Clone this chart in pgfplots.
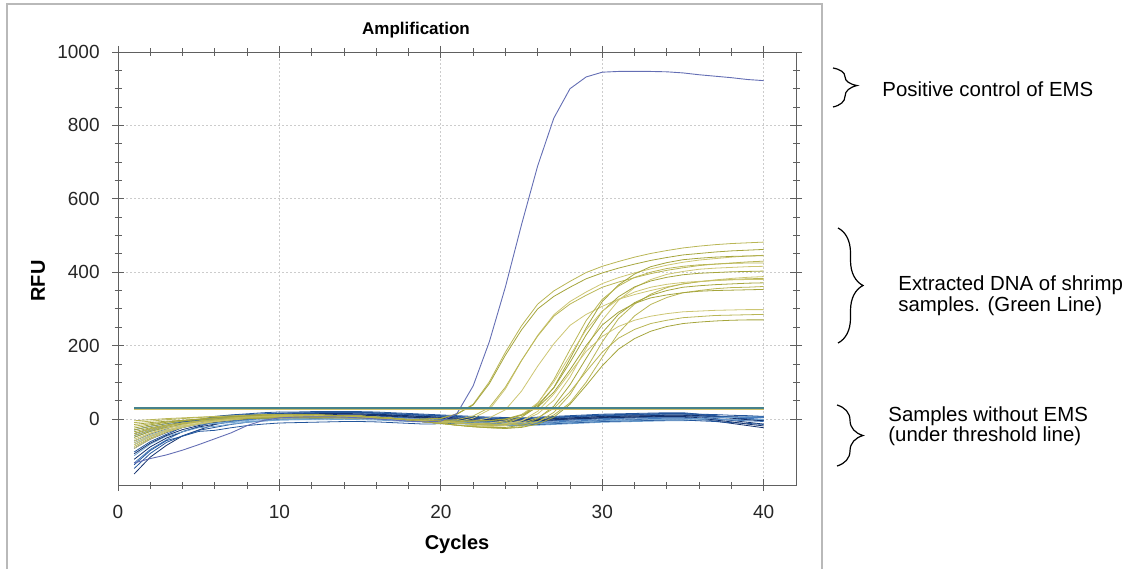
\documentclass[border=0pt]{standalone}
\usepackage{pgfplots}
\pgfplotsset{compat=1.18}
\usepackage{pgfplotstable}
\usepackage{fontspec}
\setmainfont{Liberation Sans}
\usetikzlibrary{decorations.pathreplacing}

\definecolor{gA}{RGB}{185,182,85}
\definecolor{gB}{RGB}{165,165,60}
\definecolor{gC}{RGB}{205,198,115}
\definecolor{bA}{RGB}{20,50,110}
\definecolor{bB}{RGB}{35,85,155}
\definecolor{bC}{RGB}{70,125,190}
\definecolor{bD}{RGB}{115,165,210}
\definecolor{posctl}{RGB}{100,110,180}
\definecolor{thrA}{RGB}{70,130,140}
\definecolor{thrB}{RGB}{205,190,105}

\pgfplotstableread{
c E1 E2 E3 E4 E5 M1 M2 M3 M4 M5 M6 M7 M8 M9 M10 M11 M12
1 -75 -40 -60 -20 -65 -50 -10 -70 -35 -5 -55 -30 -45 -15 -80 -40 -25
2 -52 -27 -40 -13 -45 -34 -6 -48 -24 -2 -38 -20 -31 -10 -55 -27 -16
3 -35 -18 -26 -8 -30 -23 -2 -32 -16 1 -25 -12 -20 -6 -36 -18 -9
4 -23 -11 -16 -4 -19 -14 1 -21 -11 3 -16 -6 -12 -4 -23 -11 -4
5 -14 -6 -8 -1 -12 -8 4 -13 -6 5 -9 -1 -7 -2 -13 -6 0
6 -8 -2 -3 2 -6 -3 6 -7 -3 7 -4 3 -3 0 -6 -2 3
7 -3 1 2 4 -2 0 8 -2 -1 8 -1 6 1 1 0 1 6
8 1 4 6 5 2 3 10 1 1 10 3 8 3 2 4 4 8
9 4 6 9 7 4 5 11 4 2 12 5 10 5 3 7 6 11
10 5 6 10 7 5 6 12 5 3 12 6 11 6 3 9 6 11
11 6 7 10 7 6 7 12 6 3 12 7 11 7 4 10 7 11
12 7 7 11 8 7 7 12 7 3 12 7 11 7 4 10 7 12
13 6 6 10 7 6 6 10 6 3 10 6 10 6 4 9 6 10
14 5 6 8 6 5 6 9 5 3 9 5 9 6 3 8 6 9
15 5 5 8 5 5 5 8 5 3 8 5 8 5 3 8 5 8
16 3 3 5 3 3 3 5 3 2 5 3 5 3 2 5 3 5
17 1 1 2 1 1 1 2 1 1 2 1 2 1 1 2 1 2
18 -2 -2 -3 -2 -2 -2 -3 -2 -1 -3 -2 -3 -2 -1 -3 -2 -3
19 0 0 -8 -5 -5 -5 -8 -5 -3 -8 -5 -8 -5 -3 -8 -5 -8
20 2 1 -7 -4 -8 -8 -12 -8 -4 -12 -8 -12 -8 -4 -12 -8 -12
21 14 13 -7 -2 -7 -11 -17 -11 -6 -17 -11 -17 -11 -6 -17 -11 -17
22 40 38 2 8 -6 -12 -18 -14 -5 -21 -12 -21 -14 -6 -19 -14 -21
23 101 96 25 31 3 -12 -19 -15 -4 -24 -11 -23 -17 -5 -21 -15 -24
24 182 174 82 87 25 -8 -13 -13 0 -25 -5 -23 -17 -1 -18 -15 -26
25 254 243 159 160 76 5 5 -5 12 -21 11 -17 -14 10 -5 -10 -23
26 313 300 228 226 144 34 42 14 38 -8 44 1 -7 32 21 3 -14
27 349 334 284 280 205 86 107 51 85 18 101 35 11 73 68 29 5
28 375 359 320 313 255 164 189 114 154 66 173 93 44 134 126 74 40
29 399 382 346 337 285 248 268 193 229 136 243 165 100 200 184 129 91
30 416 398 369 359 307 320 326 269 293 210 294 235 168 256 225 182 145
31 429 411 385 373 326 365 362 323 333 273 326 285 234 291 252 220 190
32 441 422 398 385 339 395 386 358 360 313 346 317 281 315 269 244 219
33 451 432 409 396 350 415 400 380 376 340 359 337 312 330 280 260 239
34 459 440 419 405 360 426 410 394 386 358 367 350 331 338 287 269 252
35 466 447 427 412 368 434 416 402 393 368 372 359 344 344 292 276 260
36 471 451 433 418 374 438 420 408 397 374 375 363 350 348 294 279 264
37 475 455 437 422 379 441 422 411 399 378 377 366 355 350 296 282 267
38 478 458 441 425 383 443 424 413 401 380 379 368 358 351 297 283 269
39 480 460 444 428 386 444 425 415 402 382 380 370 359 352 298 284 270
40 482 462 446 430 388 445 425 416 403 383 380 371 361 353 298 285 270
}\greentab

\pgfplotstableread{
c B1 B2 B3 B4 B5 B6 B7 B8 B9 B10 B11 B12 B13 B14 B15 B16
1 -150 -135 -120 -110 -100 -90 -80 -70 -60 -50 -40 -30 -125 -95 -65 -45
2 -104 -94 -83 -76 -69 -62 -55 -48 -41 -34 -27 -20 -86 -66 -45 -31
3 -72 -64 -57 -52 -47 -42 -37 -32 -27 -23 -18 -13 -59 -45 -30 -20
4 -46 -46 -34 -35 -35 -23 -23 -23 -12 -19 -8 -7 -47 -29 -22 -8
5 -30 -31 -21 -22 -24 -13 -14 -14 -4 -13 -3 -3 -34 -18 -15 -2
6 -15 -23 -7 -14 -20 0 -5 -10 7 -13 4 0 -31 -9 -12 6
7 -7 -15 0 -7 -14 5 0 -5 11 -10 7 3 -24 -3 -8 10
8 0 -9 5 -2 -9 10 3 -2 14 -7 10 5 -18 1 -4 12
9 4 -5 9 2 -6 13 6 1 17 -5 12 6 -14 5 -2 14
10 8 -1 12 5 -3 15 9 3 19 -3 13 8 -11 7 0 16
11 10 0 14 6 -2 16 10 4 19 -2 14 8 -10 8 1 17
12 11 1 15 7 -1 17 10 5 20 -2 14 8 -9 9 2 17
13 12 2 15 8 0 18 11 5 20 -2 15 9 -8 10 2 18
14 13 3 16 8 0 18 11 5 20 -1 15 9 -7 10 3 18
15 13 3 16 8 0 18 11 5 20 -2 14 8 -7 10 2 17
16 12 2 15 7 -1 17 10 4 19 -3 13 7 -8 9 1 16
17 10 -1 13 5 -3 15 9 2 17 -5 11 5 -10 7 -1 14
18 8 -2 11 3 -5 13 6 0 15 -7 9 3 -12 5 -3 12
19 6 -4 9 2 -7 11 4 -2 13 -8 7 1 -14 3 -5 10
20 4 -6 7 -1 -9 9 2 -4 11 -11 5 -1 -13 1 -7 8
21 2 -8 5 -3 -11 7 0 -6 9 -13 3 -3 -11 -1 -9 6
22 1 -10 3 -5 -13 4 -2 -8 7 -15 1 -5 -12 -3 -11 4
23 -2 -12 1 -7 -15 3 -4 -10 5 -17 -1 -7 -15 -5 -13 2
24 -3 -13 0 -8 -16 2 -5 -11 4 -18 -2 -8 -16 -6 -14 1
25 -3 -13 -1 -8 -16 2 -5 -11 3 -18 -2 -7 -16 -6 -14 1
26 -2 -12 1 -7 -15 3 -4 -10 5 -17 -1 -7 -15 -5 -13 2
27 0 -10 3 -5 -13 5 -2 -8 7 -15 1 -5 -13 -3 -11 4
28 2 -8 5 -3 -10 7 0 -6 9 -13 3 -3 -11 0 -9 6
29 4 -6 7 -1 -9 9 2 -4 11 -11 5 -1 -9 1 -7 8
30 6 -4 9 1 -7 11 4 -2 13 -9 7 1 -7 3 -5 10
31 7 -3 10 2 -6 12 5 0 14 -8 8 2 -6 4 -4 10
32 8 -2 11 3 -5 13 6 0 15 -7 9 3 -5 5 -3 12
33 9 0 12 4 -4 14 7 1 16 -6 9 4 -4 6 -2 13
34 10 0 13 5 -3 15 8 2 17 -5 11 5 -3 7 -1 14
35 10 0 13 5 -3 15 8 2 17 -5 11 5 -3 7 -1 14
36 6 2 11 0 -2 12 8 1 13 -3 9 6 -5 3 1 13
37 1 3 8 -6 -2 8 7 -1 9 -3 5 5 -7 -3 3 12
38 -4 4 5 -12 -2 4 6 -3 4 -2 2 5 -10 -8 4 10
39 -9 5 2 -18 -2 0 5 -5 0 -2 -2 4 -12 -14 6 9
40 -14 6 -1 -24 -2 -4 4 -7 -5 -1 -5 4 -15 -19 7 7
}\bluetab

\pgfplotstableread{
c P
1 -120
2 -108
3 -98
4 -85
5 -70
6 -54
7 -38
8 -18
9 -4
10 3
11 5
12 6
13 6
14 5
15 3
16 0
17 -3
18 -6
19 -8
20 -6
21 15
22 90
23 210
24 360
25 530
26 690
27 820
28 900
29 932
30 945
31 947
32 947
33 947
34 946
35 943
36 938
37 934
38 930
39 925
40 922
}\postab

\begin{document}
\begin{tikzpicture}
\path[use as bounding box] (0pt,0pt) rectangle (563.5pt,284.5pt);
\draw[gray!55, line width=0.8pt] (3.5pt,0pt) -- (3.5pt,282.5pt) -- (411pt,282.5pt) -- (411pt,0pt);

\begin{axis}[
  at={(59pt,42pt)}, anchor=south west,
  width=339pt, height=216.5pt, scale only axis,
  xmin=0, xmax=42, ymin=-180, ymax=1000,
  xtick={0,10,20,30,40}, ytick={0,200,400,600,800,1000},
  minor x tick num=4, minor y tick num=3,
  tick align=center,
  major tick length=6pt, minor tick length=3.5pt,
  grid=major,
  major grid style={gray!40, dash pattern=on 1pt off 1pt, line width=0.4pt},
  axis line style={gray!75!black, line width=0.5pt},
  every tick/.style={gray!75!black, line width=0.4pt},
  /pgf/number format/assume math mode=true,
  /pgf/number format/1000 sep={},
  tick label style={font=\fontsize{9.5}{11}\selectfont, text=black!85},
  yticklabel style={anchor=east, inner sep=0pt, xshift=-6pt},
  xticklabel style={anchor=north, inner sep=0pt, yshift=-7pt},
  every axis plot/.append style={line width=0.4pt, no marks},
]
% samples without EMS (blue)
\addplot[bA] table[x=c,y=B1]{\bluetab};
\addplot[bB] table[x=c,y=B2]{\bluetab};
\addplot[bC] table[x=c,y=B3]{\bluetab};
\addplot[bA] table[x=c,y=B4]{\bluetab};
\addplot[bD] table[x=c,y=B5]{\bluetab};
\addplot[bB] table[x=c,y=B6]{\bluetab};
\addplot[bA] table[x=c,y=B7]{\bluetab};
\addplot[bC] table[x=c,y=B8]{\bluetab};
\addplot[bB] table[x=c,y=B9]{\bluetab};
\addplot[bD] table[x=c,y=B10]{\bluetab};
\addplot[bA] table[x=c,y=B11]{\bluetab};
\addplot[bC] table[x=c,y=B12]{\bluetab};
\addplot[bB] table[x=c,y=B13]{\bluetab};
\addplot[bA] table[x=c,y=B14]{\bluetab};
\addplot[bD] table[x=c,y=B15]{\bluetab};
\addplot[bB] table[x=c,y=B16]{\bluetab};
% shrimp samples (green)
\addplot[gA] table[x=c,y=E1]{\greentab};
\addplot[gB] table[x=c,y=E2]{\greentab};
\addplot[gC] table[x=c,y=E3]{\greentab};
\addplot[gA] table[x=c,y=E4]{\greentab};
\addplot[gC] table[x=c,y=E5]{\greentab};
\addplot[gB] table[x=c,y=M1]{\greentab};
\addplot[gA] table[x=c,y=M2]{\greentab};
\addplot[gC] table[x=c,y=M3]{\greentab};
\addplot[gB] table[x=c,y=M4]{\greentab};
\addplot[gA] table[x=c,y=M5]{\greentab};
\addplot[gC] table[x=c,y=M6]{\greentab};
\addplot[gB] table[x=c,y=M7]{\greentab};
\addplot[gA] table[x=c,y=M8]{\greentab};
\addplot[gB] table[x=c,y=M9]{\greentab};
\addplot[gC] table[x=c,y=M10]{\greentab};
\addplot[gA] table[x=c,y=M11]{\greentab};
\addplot[gB] table[x=c,y=M12]{\greentab};
% positive control
\addplot[posctl, line width=0.45pt] table[x=c,y=P]{\postab};
% threshold
\addplot[thrB, line width=0.6pt] coordinates {(1,25) (40,25)};
\addplot[thrA, line width=0.6pt] coordinates {(1,30) (40,30)};
\end{axis}

\node[font=\fontsize{8.5}{10}\selectfont\bfseries] at (208pt,269.5pt) {Amplification};
\node[font=\fontsize{10}{12}\selectfont\bfseries, rotate=90] at (19pt,144pt) {RFU};
\node[font=\fontsize{10}{12}\selectfont\bfseries] at (228.5pt,12.5pt) {Cycles};

\begin{scope}[font=\fontsize{10.2}{12}\selectfont]
\node[anchor=base west, inner sep=0pt] at (441pt,236.2pt) {Positive control of EMS};
\node[anchor=base west, inner sep=0pt] at (449pt,139.5pt) {Extracted DNA of shrimp};
\node[anchor=base west, inner sep=0pt] at (449pt,129pt) {samples. (Green Line)};
\node[anchor=base west, inner sep=0pt] at (444pt,74pt) {Samples without EMS};
\node[anchor=base west, inner sep=0pt] at (444pt,64pt) {(under threshold line)};
\end{scope}

\draw[black, line width=0.6pt, decorate, decoration={brace, amplitude=12pt, aspect=0.45}] (416.5pt,250.5pt) -- (416.5pt,231pt);
\draw[black, line width=0.6pt, decorate, decoration={brace, amplitude=12.5pt}] (419pt,170.5pt) -- (419pt,113pt);
\draw[black, line width=0.6pt, decorate, decoration={brace, amplitude=13pt}] (418.5pt,82pt) -- (418.5pt,51.5pt);
\end{tikzpicture}
\end{document}
